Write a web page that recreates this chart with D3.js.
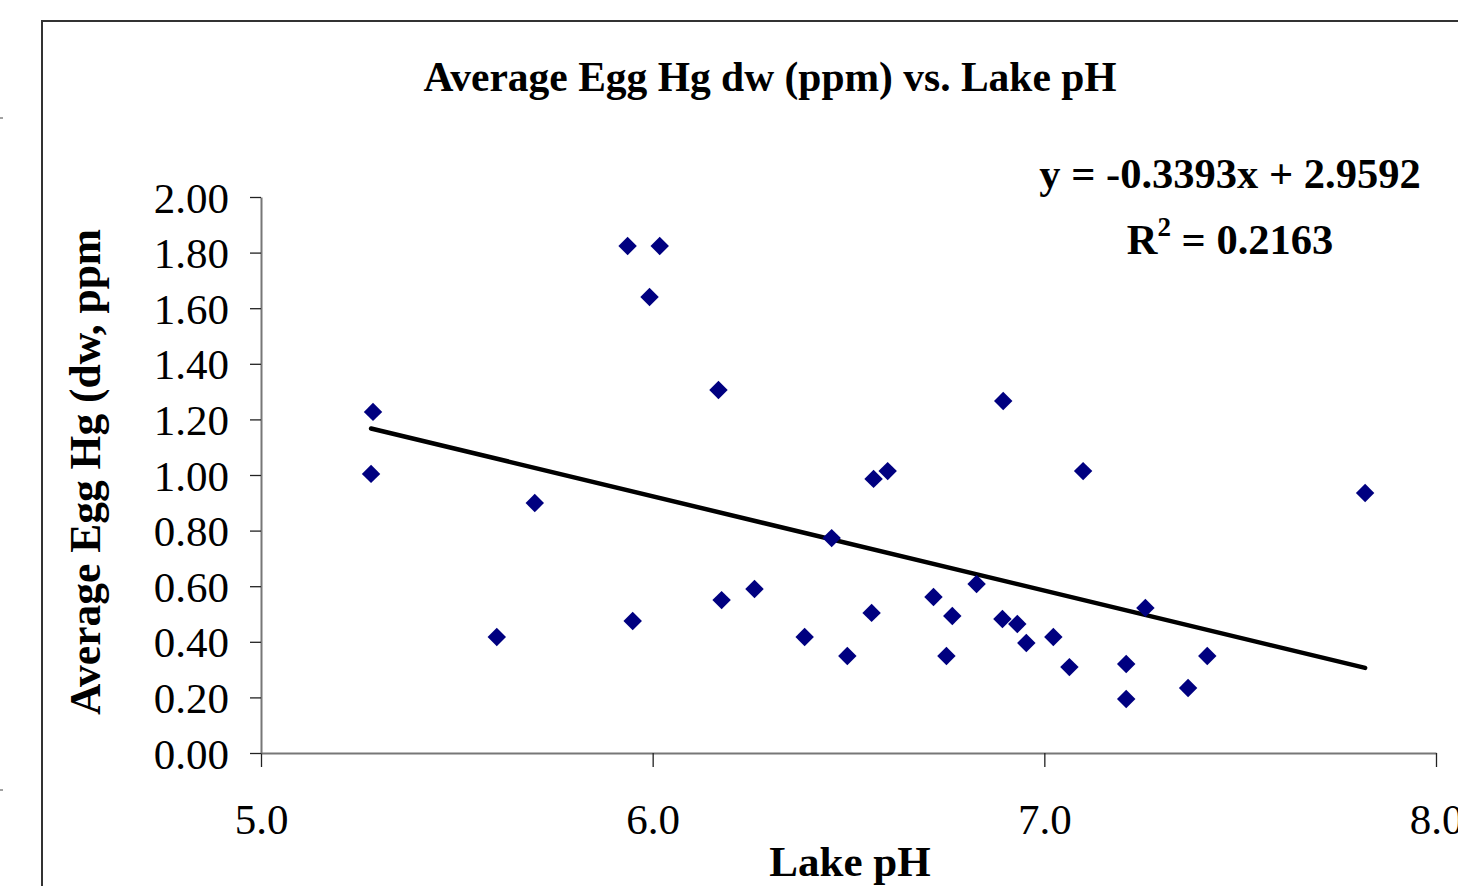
<!DOCTYPE html>
<html>
<head>
<meta charset="utf-8">
<script src="https://cdn.jsdelivr.net/npm/d3@7"></script>
<style>
  html, body { margin: 0; padding: 0; background: #fff; }
  svg { display: block; font-family: "Liberation Serif", "Times New Roman", serif; }
</style>
</head>
<body>
<div id="app"></div>
<script>
// lake pH vs average egg Hg (dw, ppm)
const lakePH = [5.286, 5.281, 5.602, 5.699, 5.936, 6.018, 5.992, 5.949, 6.168, 6.176,
  6.260, 6.388, 6.457, 6.497, 6.559, 6.564, 6.600, 6.717, 6.750, 6.765,
  6.827, 6.895, 6.893, 6.931, 6.954, 7.023, 7.064, 7.099, 7.209, 7.209,
  7.258, 7.367, 7.416, 7.819];
const eggHg = [1.227, 1.004, 0.417, 0.899, 1.824, 1.824, 1.640, 0.475, 1.306, 0.550,
  0.590, 0.417, 0.773, 0.349, 0.504, 0.986, 1.014, 0.561, 0.349, 0.493,
  0.608, 1.266, 0.482, 0.464, 0.396, 0.417, 0.309, 1.014, 0.320, 0.194,
  0.522, 0.234, 0.349, 0.935];

const slope = -0.3393;
const intercept = 2.9592;
const rSquared = 0.2163;

const xTicks = [5, 6, 7, 8];
const yTicks = [0, 0.2, 0.4, 0.6, 0.8, 1.0, 1.2, 1.4, 1.6, 1.8, 2.0];

const width = 1458, height = 886;

const svg = d3.select("#app").append("svg")
  .attr("width", width)
  .attr("height", height);

// outer chart frame (runs off the right and bottom edges)
svg.append("rect")
  .attr("x", 42).attr("y", 21)
  .attr("width", 1500).attr("height", 1000)
  .attr("fill", "none")
  .attr("stroke", "#333")
  .attr("stroke-width", 2);

// little slide marks at the far left
[118, 790].forEach(y => {
  svg.append("line").attr("x1", 0).attr("x2", 3).attr("y1", y).attr("y2", y)
    .attr("stroke", "#444").attr("stroke-width", 1);
});

const x = d3.scaleLinear().domain([5, 8]).range([261, 1436]);
const y = d3.scaleLinear().domain([0, 2]).range([753, 197]);

// title
svg.append("text")
  .attr("x", 770).attr("y", 91)
  .attr("text-anchor", "middle")
  .attr("font-weight", "bold")
  .attr("font-size", 41.5)
  .text("Average Egg Hg dw (ppm) vs. Lake pH");

// axes
const xAxis = svg.append("g")
  .attr("transform", `translate(0,${y(0)})`)
  .call(d3.axisBottom(x).tickValues(xTicks).tickFormat(d3.format(".1f")).tickSize(14).tickSizeOuter(0));
const yAxis = svg.append("g")
  .attr("transform", `translate(${x(5)},0)`)
  .call(d3.axisLeft(y).tickValues(yTicks).tickFormat(d3.format(".2f")).tickSize(11).tickSizeOuter(0));

[xAxis, yAxis].forEach(g => {
  g.select(".domain").attr("stroke", "#777").attr("stroke-width", 2);
  g.selectAll(".tick line").attr("stroke", "#222").attr("stroke-width", 1.3);
  g.selectAll(".tick text")
    .attr("fill", "#000")
    .attr("font-family", "Liberation Serif, Times New Roman, serif")
    .attr("font-size", 43);
});
xAxis.selectAll(".tick text").attr("dy", null).attr("y", 81);
yAxis.selectAll(".tick text").attr("x", -32).attr("dy", "0.35em");

// axis titles
svg.append("text")
  .attr("x", 850).attr("y", 876)
  .attr("text-anchor", "middle")
  .attr("font-weight", "bold")
  .attr("font-size", 43)
  .text("Lake pH");

svg.append("text")
  .attr("transform", "translate(100,472) rotate(-90)")
  .attr("text-anchor", "middle")
  .attr("font-weight", "bold")
  .attr("font-size", 43.5)
  .text("Average Egg Hg (dw, ppm");

// linear trendline across the data range
const xExtent = d3.extent(lakePH);
svg.append("line")
  .attr("x1", x(xExtent[0])).attr("y1", y(slope * xExtent[0] + intercept))
  .attr("x2", x(xExtent[1])).attr("y2", y(slope * xExtent[1] + intercept))
  .attr("stroke", "#000")
  .attr("stroke-width", 4.5)
  .attr("stroke-linecap", "round");

// points
const diamond = d3.symbol().type(d3.symbolSquare).size(170);
svg.append("g").selectAll("path")
  .data(d3.zip(lakePH, eggHg))
  .enter().append("path")
  .attr("d", diamond)
  .attr("transform", d => `translate(${x(d[0])},${y(d[1])}) rotate(45)`)
  .attr("fill", "#000080");

// equation + R²
svg.append("text")
  .attr("x", 1230).attr("y", 188)
  .attr("text-anchor", "middle")
  .attr("font-weight", "bold")
  .attr("font-size", 42.5)
  .text(`y = ${slope}x + ${intercept}`);

const r2 = svg.append("text")
  .attr("x", 1230).attr("y", 254)
  .attr("text-anchor", "middle")
  .attr("font-weight", "bold")
  .attr("font-size", 42.5);
r2.append("tspan").text("R");
r2.append("tspan").attr("dy", -18).attr("font-size", 27).text("2");
r2.append("tspan").attr("dy", 18).text(` = ${rSquared}`);
</script>
</body>
</html>
